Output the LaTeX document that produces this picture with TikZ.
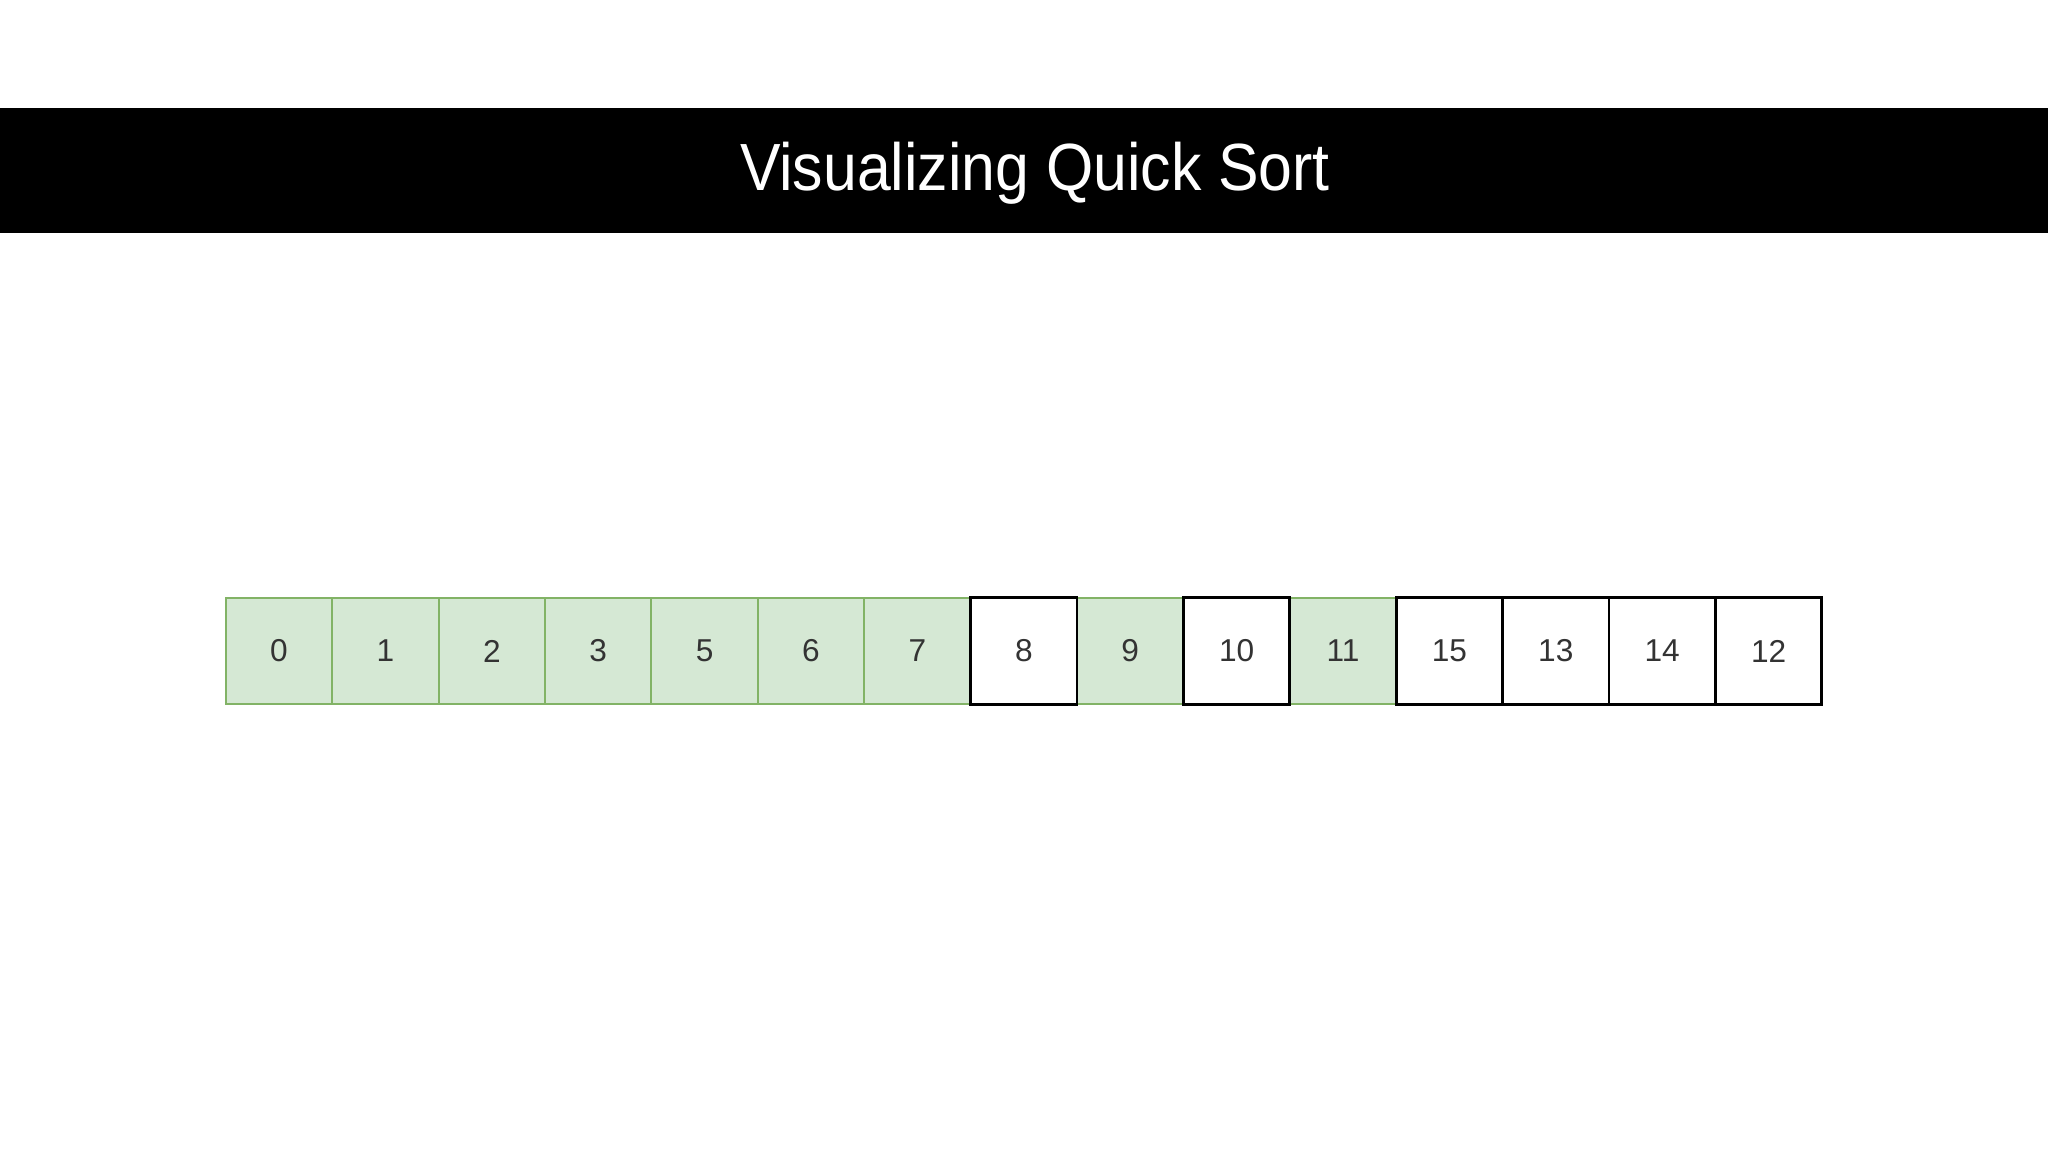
\documentclass[tikz,border=0pt]{standalone}
\usepackage{fontspec}
\setmainfont{Liberation Sans}
\usetikzlibrary{positioning}

\definecolor{cellgreen}{HTML}{D5E8D4}
\definecolor{cellgreenline}{HTML}{82B366}
\definecolor{celltext}{HTML}{333333}

\begin{document}
\begin{tikzpicture}[%
      every node/.style={inner sep=0pt, outer sep=0pt},
      cell/.style={rectangle, minimum size=1.064cm, font=\fontsize{9}{10}\selectfont, text=celltext},
      done/.style={cell, fill=cellgreen, draw=cellgreenline, line width=0.6pt},
      todo/.style={cell, fill=white, draw=black, line width=0.75pt},
      node distance=0pt
    ]
    \useasboundingbox (0,0) rectangle (20.48,11.52);
    \fill[white] (0,0) rectangle (20.48,11.52);

    % title bar
    \fill[black] (0,9.19) rectangle (20.48,10.44);
    \node (title) [anchor=base, text=white, font=\fontsize{19}{22}\selectfont,
      xscale=0.91, transform shape] at (10.35,9.61) {Visualizing Quick Sort};

    % array
    \node (c1) [done] at (2.79,5.01) {0};
    \node (c2) [done, right=of c1] {1};
    \node (c3) [done, right=of c2] {2};
    \node (c4) [done, right=of c3] {3};
    \node (c5) [done, right=of c4] {5};
    \node (c6) [done, right=of c5] {6};
    \node (c7) [done, right=of c6] {7};
    \node (c8) [todo, right=of c7] {8};
    \node (c9) [done, right=of c8] {9};
    \node (c10) [todo, right=of c9] {10};
    \node (c11) [done, right=of c10] {11};
    \node (c12) [todo, right=of c11] {15};
    \node (c13) [todo, right=of c12] {13};
    \node (c14) [todo, right=of c13] {14};
    \node (c15) [todo, right=of c14] {12};

    % black borders on top
    \foreach \c in {c8,c10,c12,c13,c14,c15}
      \draw[black, line width=0.75pt] (\c.south west) rectangle (\c.north east);
\end{tikzpicture}
\end{document}
